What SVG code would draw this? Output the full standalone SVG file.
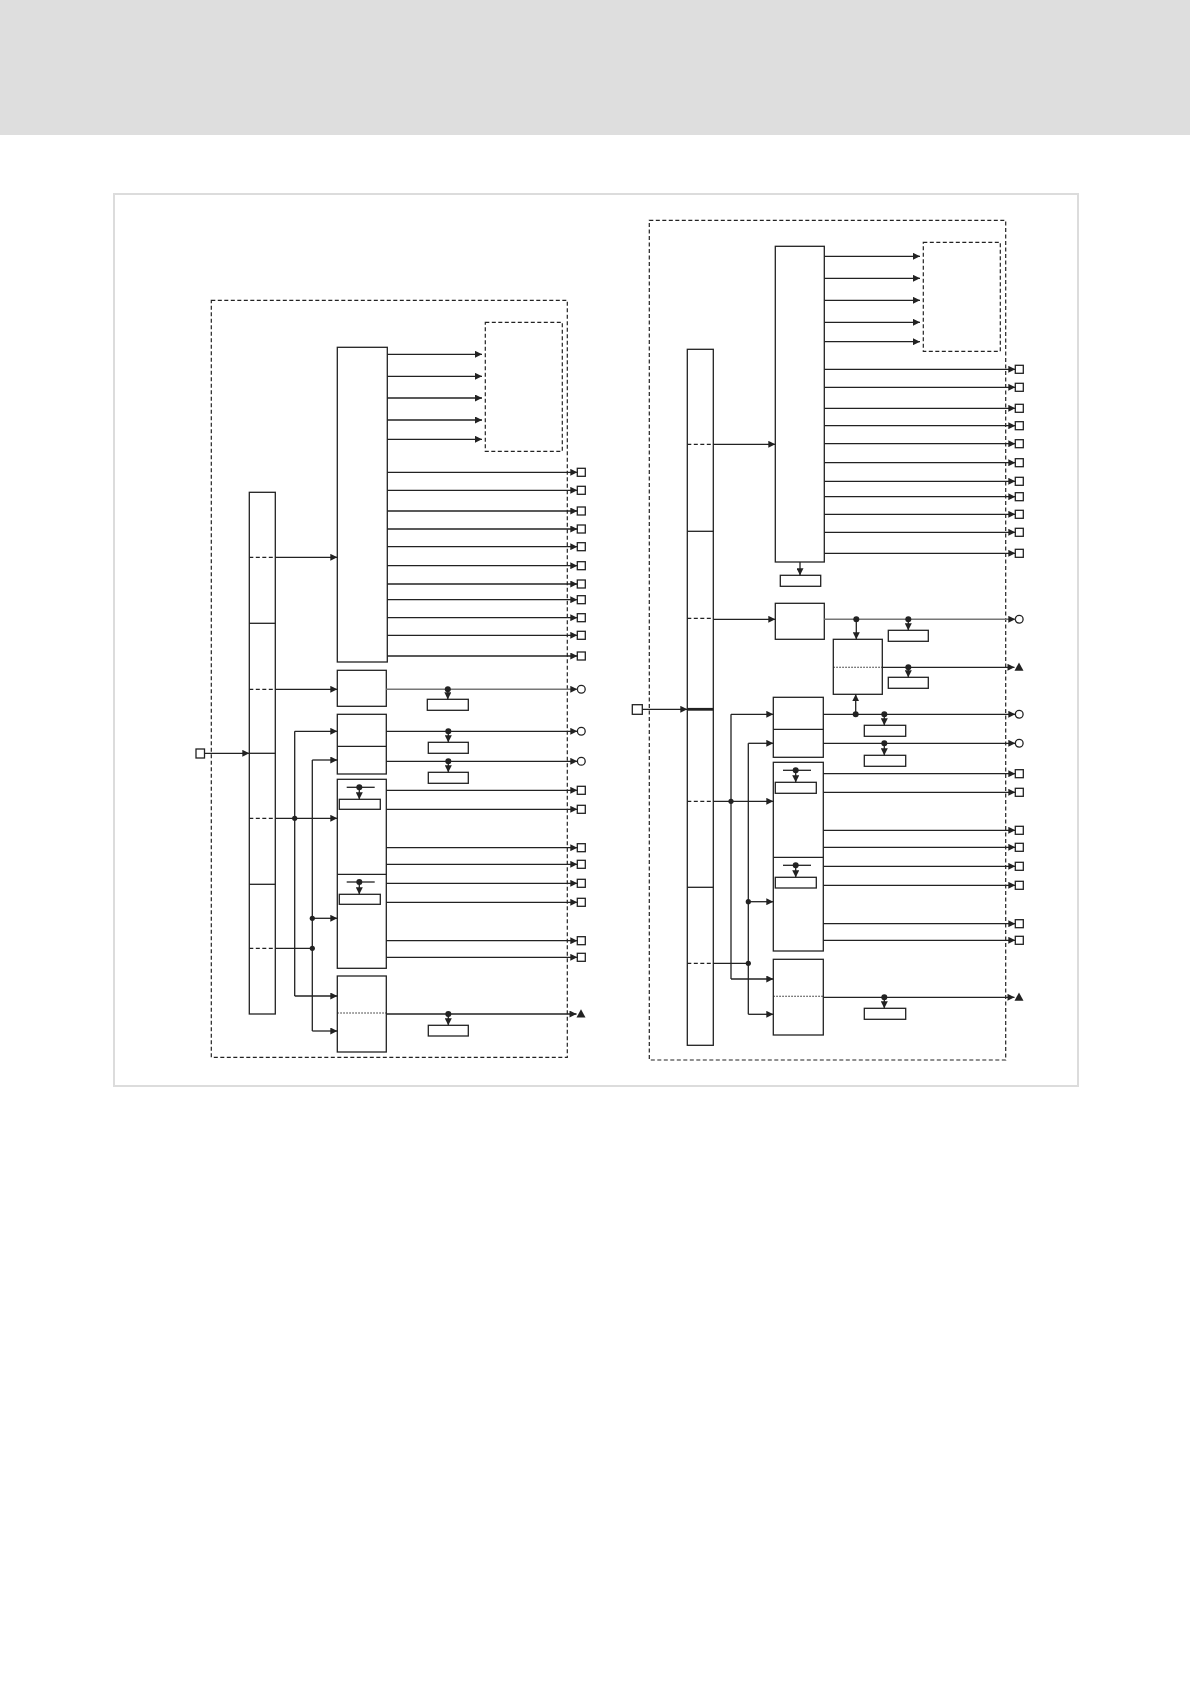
<svg xmlns="http://www.w3.org/2000/svg" width="1190" height="1684" viewBox="0 0 1190 1684">
<style>
.bx{fill:#fff;stroke:#222;stroke-width:1.3}
.dsh{fill:none;stroke:#222;stroke-width:1.2;stroke-dasharray:4 2.5}
.dv{fill:none;stroke:#222;stroke-width:1.2;stroke-dasharray:4 2.5}
.dt{fill:none;stroke:#222;stroke-width:1.1;stroke-dasharray:1.5 1.5}
.ln{fill:none;stroke:#222;stroke-width:1.3}
.gr{fill:none;stroke:#777;stroke-width:1.6}
.ar{fill:none;stroke:#222;stroke-width:1.3;marker-end:url(#a)}
.arg{fill:none;stroke:#777;stroke-width:1.6;marker-end:url(#a)}
.sa{fill:none;stroke:#222;stroke-width:1.3;marker-end:url(#s)}
.dot{fill:#222}
.sq{fill:#fff;stroke:#222;stroke-width:1.3}
.tri{fill:#222}
.th{fill:none;stroke:#222;stroke-width:2.8}
</style>
<defs>
<marker id="a" viewBox="0 0 10 10" refX="10" refY="5" markerWidth="9" markerHeight="7" markerUnits="userSpaceOnUse" orient="auto"><path d="M0,0 L10,5 L0,10 z" fill="#222"/></marker>
<marker id="s" viewBox="0 0 10 10" refX="10" refY="5" markerWidth="7" markerHeight="7" markerUnits="userSpaceOnUse" orient="auto"><path d="M0,0 L10,5 L0,10 z" fill="#222"/></marker>
</defs>
<rect x="0" y="0" width="1190" height="135" fill="#dedede"/>
<rect x="114" y="194" width="964" height="892" fill="none" stroke="#dcdcdc" stroke-width="2"/>

<!-- LEFT DIAGRAM -->
<g id="left-frame"><rect class="dsh" x="211.3" y="300.3" width="356" height="757"/></g>
<g id="left-target"><rect class="dsh" x="485.3" y="322.3" width="77" height="129"/></g>
<g id="left-bus">
<rect class="bx" x="249.3" y="492.3" width="26" height="521.7"/>
<line class="dv" x1="249.3" y1="557.3" x2="275.3" y2="557.3"/>
<line class="ln" x1="249.3" y1="623.3" x2="275.3" y2="623.3"/>
<line class="dv" x1="249.3" y1="689.3" x2="275.3" y2="689.3"/>
<line class="ln" x1="249.3" y1="753.3" x2="275.3" y2="753.3"/>
<line class="dv" x1="249.3" y1="818.3" x2="275.3" y2="818.3"/>
<line class="ln" x1="249.3" y1="884.3" x2="275.3" y2="884.3"/>
<line class="dv" x1="249.3" y1="948.3" x2="275.3" y2="948.3"/>
</g>
<g id="left-input"><rect class="sq" x="196" y="749" width="8.5" height="9"/></g>
<g id="left-block1"><rect class="bx" x="337.3" y="347.3" width="50" height="314.7"/></g>
<g id="left-block2"><rect class="bx" x="337.3" y="670.3" width="49" height="36"/>
<rect class="bx" x="427.3" y="699.3" width="41" height="11"/></g>
<g id="left-block3"><rect class="bx" x="337.3" y="714.3" width="49" height="59.7"/>
<line class="ln" x1="337.3" y1="746.3" x2="386.3" y2="746.3"/>
<rect class="bx" x="428.3" y="742.3" width="40" height="11"/>
<rect class="bx" x="428.3" y="772.3" width="40" height="11"/></g>
<g id="left-block4"><rect class="bx" x="337.3" y="779.3" width="49" height="189"/>
<line class="ln" x1="337.3" y1="874.3" x2="386.3" y2="874.3"/>
<line class="ln" x1="346.7" y1="787.3" x2="374.7" y2="787.3"/>
<rect class="bx" x="339.3" y="799.3" width="41" height="10"/>
<line class="ln" x1="346.7" y1="882" x2="374.7" y2="882"/>
<rect class="bx" x="339.3" y="894.3" width="41" height="10"/></g>
<g id="left-block5"><rect class="bx" x="337.3" y="976" width="49" height="76"/>
<line class="dt" x1="337.3" y1="1013" x2="386.3" y2="1013"/>
<rect class="bx" x="428.3" y="1025.3" width="40" height="10.7"/></g>
<g id="left-terminals">
<rect class="sq" x="577.3" y="468.3" width="8" height="8"/>
<rect class="sq" x="577.3" y="486.3" width="8" height="8"/>
<rect class="sq" x="577.3" y="507" width="8" height="8"/>
<rect class="sq" x="577.3" y="525" width="8" height="8"/>
<rect class="sq" x="577.3" y="542.7" width="8" height="8"/>
<rect class="sq" x="577.3" y="561.7" width="8" height="8"/>
<rect class="sq" x="577.3" y="580" width="8" height="8"/>
<rect class="sq" x="577.3" y="595.7" width="8" height="8"/>
<rect class="sq" x="577.3" y="613.7" width="8" height="8"/>
<rect class="sq" x="577.3" y="631.3" width="8" height="8"/>
<rect class="sq" x="577.3" y="652" width="8" height="8"/>
<circle class="sq" cx="581.3" cy="689.3" r="3.9"/>
<circle class="sq" cx="581.3" cy="731.3" r="3.9"/>
<circle class="sq" cx="581.3" cy="761.3" r="3.9"/>
<rect class="sq" x="577.3" y="786.3" width="8" height="8"/>
<rect class="sq" x="577.3" y="805.3" width="8" height="8"/>
<rect class="sq" x="577.3" y="843.7" width="8" height="8"/>
<rect class="sq" x="577.3" y="860.3" width="8" height="8"/>
<rect class="sq" x="577.3" y="879.3" width="8" height="8"/>
<rect class="sq" x="577.3" y="898.3" width="8" height="8"/>
<rect class="sq" x="577.3" y="936.7" width="8" height="8"/>
<rect class="sq" x="577.3" y="953.3" width="8" height="8"/>
<polygon class="tri" points="581,1009.3 585.5,1017.5 576.5,1017.5"/>
</g>

<!-- RIGHT DIAGRAM -->
<g id="right-frame"><rect class="dsh" x="649.3" y="220.3" width="356.4" height="839.7"/></g>
<g id="right-target"><rect class="dsh" x="923.3" y="242.3" width="77" height="109"/></g>
<g id="right-bus">
<rect class="bx" x="687.3" y="349.3" width="26" height="696"/>
<line class="dv" x1="687.3" y1="444.3" x2="713.3" y2="444.3"/>
<line class="ln" x1="687.3" y1="531.3" x2="713.3" y2="531.3"/>
<line class="dv" x1="687.3" y1="618.3" x2="713.3" y2="618.3"/>
<line class="th" x1="687.3" y1="709.3" x2="713.3" y2="709.3"/>
<line class="dv" x1="687.3" y1="801.3" x2="713.3" y2="801.3"/>
<line class="ln" x1="687.3" y1="887.3" x2="713.3" y2="887.3"/>
<line class="dv" x1="687.3" y1="963.3" x2="713.3" y2="963.3"/>
</g>
<g id="right-input"><rect class="sq" x="632.3" y="704.7" width="10" height="9.6"/></g>
<g id="right-block1"><rect class="bx" x="775.3" y="246.3" width="49" height="315.7"/>
<rect class="bx" x="780.3" y="575.3" width="40.4" height="11"/></g>
<g id="right-blockA"><rect class="bx" x="775.3" y="603.3" width="49" height="36"/>
<rect class="bx" x="888.3" y="630.3" width="40" height="11"/></g>
<g id="right-blockB"><rect class="bx" x="833.3" y="639.3" width="49" height="55"/>
<line class="dt" x1="833.3" y1="667.3" x2="882.3" y2="667.3"/>
<rect class="bx" x="888.3" y="677.3" width="40" height="11"/></g>
<g id="right-blockC"><rect class="bx" x="773.3" y="697.3" width="50" height="60"/>
<line class="ln" x1="773.3" y1="729.3" x2="823.3" y2="729.3"/>
<rect class="bx" x="864.3" y="725.3" width="41.4" height="11"/>
<rect class="bx" x="864.3" y="755.3" width="41.4" height="11"/></g>
<g id="right-blockD"><rect class="bx" x="773.3" y="762.3" width="50" height="188.7"/>
<line class="ln" x1="773.3" y1="857.3" x2="823.3" y2="857.3"/>
<line class="ln" x1="783" y1="770.3" x2="811" y2="770.3"/>
<rect class="bx" x="775.3" y="782.3" width="41" height="11"/>
<line class="ln" x1="783" y1="865.3" x2="811" y2="865.3"/>
<rect class="bx" x="775.3" y="877.3" width="41" height="10.7"/></g>
<g id="right-blockE"><rect class="bx" x="773.3" y="959.3" width="50" height="75.7"/>
<line class="dt" x1="773.3" y1="996.3" x2="823.3" y2="996.3"/>
<rect class="bx" x="864.3" y="1008.3" width="41.4" height="11"/></g>
<g id="right-terminals">
<rect class="sq" x="1015.3" y="365.3" width="8" height="8"/>
<rect class="sq" x="1015.3" y="383.3" width="8" height="8"/>
<rect class="sq" x="1015.3" y="404.3" width="8" height="8"/>
<rect class="sq" x="1015.3" y="421.7" width="8" height="8"/>
<rect class="sq" x="1015.3" y="439.7" width="8" height="8"/>
<rect class="sq" x="1015.3" y="458.7" width="8" height="8"/>
<rect class="sq" x="1015.3" y="477.3" width="8" height="8"/>
<rect class="sq" x="1015.3" y="492.7" width="8" height="8"/>
<rect class="sq" x="1015.3" y="510.3" width="8" height="8"/>
<rect class="sq" x="1015.3" y="528.3" width="8" height="8"/>
<rect class="sq" x="1015.3" y="549.3" width="8" height="8"/>
<circle class="sq" cx="1019.2" cy="619.3" r="3.9"/>
<polygon class="tri" points="1019,662.5 1023.5,670.7 1014.5,670.7"/>
<circle class="sq" cx="1019.2" cy="714.3" r="3.9"/>
<circle class="sq" cx="1019.2" cy="743.3" r="3.9"/>
<rect class="sq" x="1015.3" y="769.7" width="8" height="8"/>
<rect class="sq" x="1015.3" y="788.3" width="8" height="8"/>
<rect class="sq" x="1015.3" y="826.3" width="8" height="8"/>
<rect class="sq" x="1015.3" y="843.3" width="8" height="8"/>
<rect class="sq" x="1015.3" y="862.3" width="8" height="8"/>
<rect class="sq" x="1015.3" y="881.3" width="8" height="8"/>
<rect class="sq" x="1015.3" y="919.7" width="8" height="8"/>
<rect class="sq" x="1015.3" y="936.3" width="8" height="8"/>
<polygon class="tri" points="1019,992.5 1023.5,1000.7 1014.5,1000.7"/>
</g>

<g id="connectors">
<!-- left: block1 to target -->
<line class="ar" x1="387.3" y1="354.3" x2="482" y2="354.3"/>
<line class="ar" x1="387.3" y1="376.3" x2="482" y2="376.3"/>
<line class="ar" x1="387.3" y1="398" x2="482" y2="398"/>
<line class="ar" x1="387.3" y1="420" x2="482" y2="420"/>
<line class="ar" x1="387.3" y1="439.3" x2="482" y2="439.3"/>
<!-- left: block1 outputs -->
<line class="ar" x1="387.3" y1="472.3" x2="577.3" y2="472.3"/>
<line class="ar" x1="387.3" y1="490.3" x2="577.3" y2="490.3"/>
<line class="ar" x1="387.3" y1="511" x2="577.3" y2="511"/>
<line class="ar" x1="387.3" y1="529" x2="577.3" y2="529"/>
<line class="ar" x1="387.3" y1="546.7" x2="577.3" y2="546.7"/>
<line class="ar" x1="387.3" y1="565.7" x2="577.3" y2="565.7"/>
<line class="ar" x1="387.3" y1="584" x2="577.3" y2="584"/>
<line class="ar" x1="387.3" y1="599.7" x2="577.3" y2="599.7"/>
<line class="ar" x1="387.3" y1="617.7" x2="577.3" y2="617.7"/>
<line class="ar" x1="387.3" y1="635.3" x2="577.3" y2="635.3"/>
<line class="ar" x1="387.3" y1="656" x2="577.3" y2="656"/>
<!-- left: bus inputs -->
<line class="ar" x1="204.5" y1="753.3" x2="249.3" y2="753.3"/>
<line class="ar" x1="275.3" y1="557.3" x2="337.3" y2="557.3"/>
<line class="ar" x1="275.3" y1="689.3" x2="337.3" y2="689.3"/>
<line class="ar" x1="275.3" y1="818.3" x2="337.3" y2="818.3"/>
<line class="ln" x1="275.3" y1="948.3" x2="312.3" y2="948.3"/>
<line class="ln" x1="294.7" y1="731.3" x2="294.7" y2="996"/>
<line class="ln" x1="312.3" y1="760" x2="312.3" y2="1031"/>
<line class="ar" x1="294.7" y1="731.3" x2="337.3" y2="731.3"/>
<line class="ar" x1="294.7" y1="996" x2="337.3" y2="996"/>
<line class="ar" x1="312.3" y1="760" x2="337.3" y2="760"/>
<line class="ar" x1="312.3" y1="1031" x2="337.3" y2="1031"/>
<line class="ar" x1="312.3" y1="918.3" x2="337.3" y2="918.3"/>
<circle class="dot" cx="294.7" cy="818.3" r="2.6"/>
<circle class="dot" cx="312.3" cy="918.3" r="2.6"/>
<circle class="dot" cx="312.3" cy="948.3" r="2.6"/>
<!-- left: block2/3/5 outputs -->
<line class="arg" x1="386.3" y1="689.3" x2="577.3" y2="689.3"/>
<line class="ar" x1="386.3" y1="731.3" x2="577.3" y2="731.3"/>
<line class="ar" x1="386.3" y1="761.3" x2="577.3" y2="761.3"/>
<line class="ar" x1="386.3" y1="1014" x2="576.5" y2="1014"/>
<circle class="dot" cx="447.8" cy="689.3" r="3"/>
<line class="sa" x1="447.8" y1="689.3" x2="447.8" y2="699.3"/>
<circle class="dot" cx="448.3" cy="731.3" r="3"/>
<line class="sa" x1="448.3" y1="731.3" x2="448.3" y2="742.3"/>
<circle class="dot" cx="448.3" cy="761.3" r="3"/>
<line class="sa" x1="448.3" y1="761.3" x2="448.3" y2="772.3"/>
<circle class="dot" cx="448.3" cy="1014" r="3"/>
<line class="sa" x1="448.3" y1="1014" x2="448.3" y2="1025.3"/>
<!-- left: block4 -->
<circle class="dot" cx="359.3" cy="787.3" r="3"/>
<line class="sa" x1="359.3" y1="787.3" x2="359.3" y2="799.3"/>
<circle class="dot" cx="359.3" cy="882" r="3"/>
<line class="sa" x1="359.3" y1="882" x2="359.3" y2="894.3"/>
<line class="ar" x1="386.3" y1="790.3" x2="577.3" y2="790.3"/>
<line class="ar" x1="386.3" y1="809.3" x2="577.3" y2="809.3"/>
<line class="ar" x1="386.3" y1="847.7" x2="577.3" y2="847.7"/>
<line class="ar" x1="386.3" y1="864.3" x2="577.3" y2="864.3"/>
<line class="ar" x1="386.3" y1="883.3" x2="577.3" y2="883.3"/>
<line class="ar" x1="386.3" y1="902.3" x2="577.3" y2="902.3"/>
<line class="ar" x1="386.3" y1="940.7" x2="577.3" y2="940.7"/>
<line class="ar" x1="386.3" y1="957.3" x2="577.3" y2="957.3"/>

<!-- right: block1 to target -->
<line class="ar" x1="824.3" y1="256.3" x2="920" y2="256.3"/>
<line class="ar" x1="824.3" y1="278.3" x2="920" y2="278.3"/>
<line class="ar" x1="824.3" y1="300.3" x2="920" y2="300.3"/>
<line class="ar" x1="824.3" y1="322.3" x2="920" y2="322.3"/>
<line class="ar" x1="824.3" y1="341.7" x2="920" y2="341.7"/>
<!-- right: block1 outputs -->
<line class="ar" x1="824.3" y1="369.3" x2="1015.3" y2="369.3"/>
<line class="ar" x1="824.3" y1="387.3" x2="1015.3" y2="387.3"/>
<line class="ar" x1="824.3" y1="408.3" x2="1015.3" y2="408.3"/>
<line class="ar" x1="824.3" y1="425.7" x2="1015.3" y2="425.7"/>
<line class="ar" x1="824.3" y1="443.7" x2="1015.3" y2="443.7"/>
<line class="ar" x1="824.3" y1="462.7" x2="1015.3" y2="462.7"/>
<line class="ar" x1="824.3" y1="481.3" x2="1015.3" y2="481.3"/>
<line class="ar" x1="824.3" y1="496.7" x2="1015.3" y2="496.7"/>
<line class="ar" x1="824.3" y1="514.3" x2="1015.3" y2="514.3"/>
<line class="ar" x1="824.3" y1="532.3" x2="1015.3" y2="532.3"/>
<line class="ar" x1="824.3" y1="553.3" x2="1015.3" y2="553.3"/>
<line class="sa" x1="800" y1="562" x2="800" y2="575.3"/>
<!-- right: bus -->
<line class="ar" x1="642.3" y1="709.3" x2="687.3" y2="709.3"/>
<line class="ar" x1="713.3" y1="444.3" x2="775.3" y2="444.3"/>
<line class="ar" x1="713.3" y1="619.3" x2="775.3" y2="619.3"/>
<line class="ar" x1="713.3" y1="801.3" x2="773.3" y2="801.3"/>
<line class="ln" x1="713.3" y1="963.3" x2="748.3" y2="963.3"/>
<line class="ln" x1="731" y1="714.3" x2="731" y2="979"/>
<line class="ln" x1="748.3" y1="743.3" x2="748.3" y2="1014.3"/>
<line class="ar" x1="731" y1="714.3" x2="773.3" y2="714.3"/>
<line class="ar" x1="731" y1="979" x2="773.3" y2="979"/>
<line class="ar" x1="748.3" y1="743.3" x2="773.3" y2="743.3"/>
<line class="ar" x1="748.3" y1="1014.3" x2="773.3" y2="1014.3"/>
<line class="ar" x1="748.3" y1="901.7" x2="773.3" y2="901.7"/>
<circle class="dot" cx="731" cy="801.3" r="2.6"/>
<circle class="dot" cx="748.3" cy="901.7" r="2.6"/>
<circle class="dot" cx="748.3" cy="963.3" r="2.6"/>
<!-- right: A, B, C, E outputs -->
<line class="arg" x1="824.3" y1="619.3" x2="1015.3" y2="619.3"/>
<circle class="dot" cx="856.3" cy="619.3" r="3"/>
<line class="sa" x1="856.3" y1="619.3" x2="856.3" y2="639.3"/>
<circle class="dot" cx="908.3" cy="619.3" r="3"/>
<line class="sa" x1="908.3" y1="619.3" x2="908.3" y2="630.3"/>
<line class="ar" x1="882.3" y1="667.3" x2="1014.5" y2="667.3"/>
<circle class="dot" cx="908.3" cy="667.3" r="3"/>
<line class="sa" x1="908.3" y1="667.3" x2="908.3" y2="677.3"/>
<line class="ar" x1="823.3" y1="714.3" x2="1015.3" y2="714.3"/>
<circle class="dot" cx="855.7" cy="714.3" r="3"/>
<line class="sa" x1="855.7" y1="714.3" x2="855.7" y2="694.3"/>
<circle class="dot" cx="884.3" cy="714.3" r="3"/>
<line class="sa" x1="884.3" y1="714.3" x2="884.3" y2="725.3"/>
<line class="ar" x1="823.3" y1="743.3" x2="1015.3" y2="743.3"/>
<circle class="dot" cx="884.3" cy="743.3" r="3"/>
<line class="sa" x1="884.3" y1="743.3" x2="884.3" y2="755.3"/>
<line class="ar" x1="823.3" y1="997.3" x2="1014.5" y2="997.3"/>
<circle class="dot" cx="884.3" cy="997.3" r="3"/>
<line class="sa" x1="884.3" y1="997.3" x2="884.3" y2="1008.3"/>
<!-- right: block D -->
<circle class="dot" cx="795.7" cy="770.3" r="3"/>
<line class="sa" x1="795.7" y1="770.3" x2="795.7" y2="782.3"/>
<circle class="dot" cx="795.7" cy="865.3" r="3"/>
<line class="sa" x1="795.7" y1="865.3" x2="795.7" y2="877.3"/>
<line class="ar" x1="823.3" y1="773.7" x2="1015.3" y2="773.7"/>
<line class="ar" x1="823.3" y1="792.3" x2="1015.3" y2="792.3"/>
<line class="ar" x1="823.3" y1="830.3" x2="1015.3" y2="830.3"/>
<line class="ar" x1="823.3" y1="847.3" x2="1015.3" y2="847.3"/>
<line class="ar" x1="823.3" y1="866.3" x2="1015.3" y2="866.3"/>
<line class="ar" x1="823.3" y1="885.3" x2="1015.3" y2="885.3"/>
<line class="ar" x1="823.3" y1="923.7" x2="1015.3" y2="923.7"/>
<line class="ar" x1="823.3" y1="940.3" x2="1015.3" y2="940.3"/>
</g>
</svg>
